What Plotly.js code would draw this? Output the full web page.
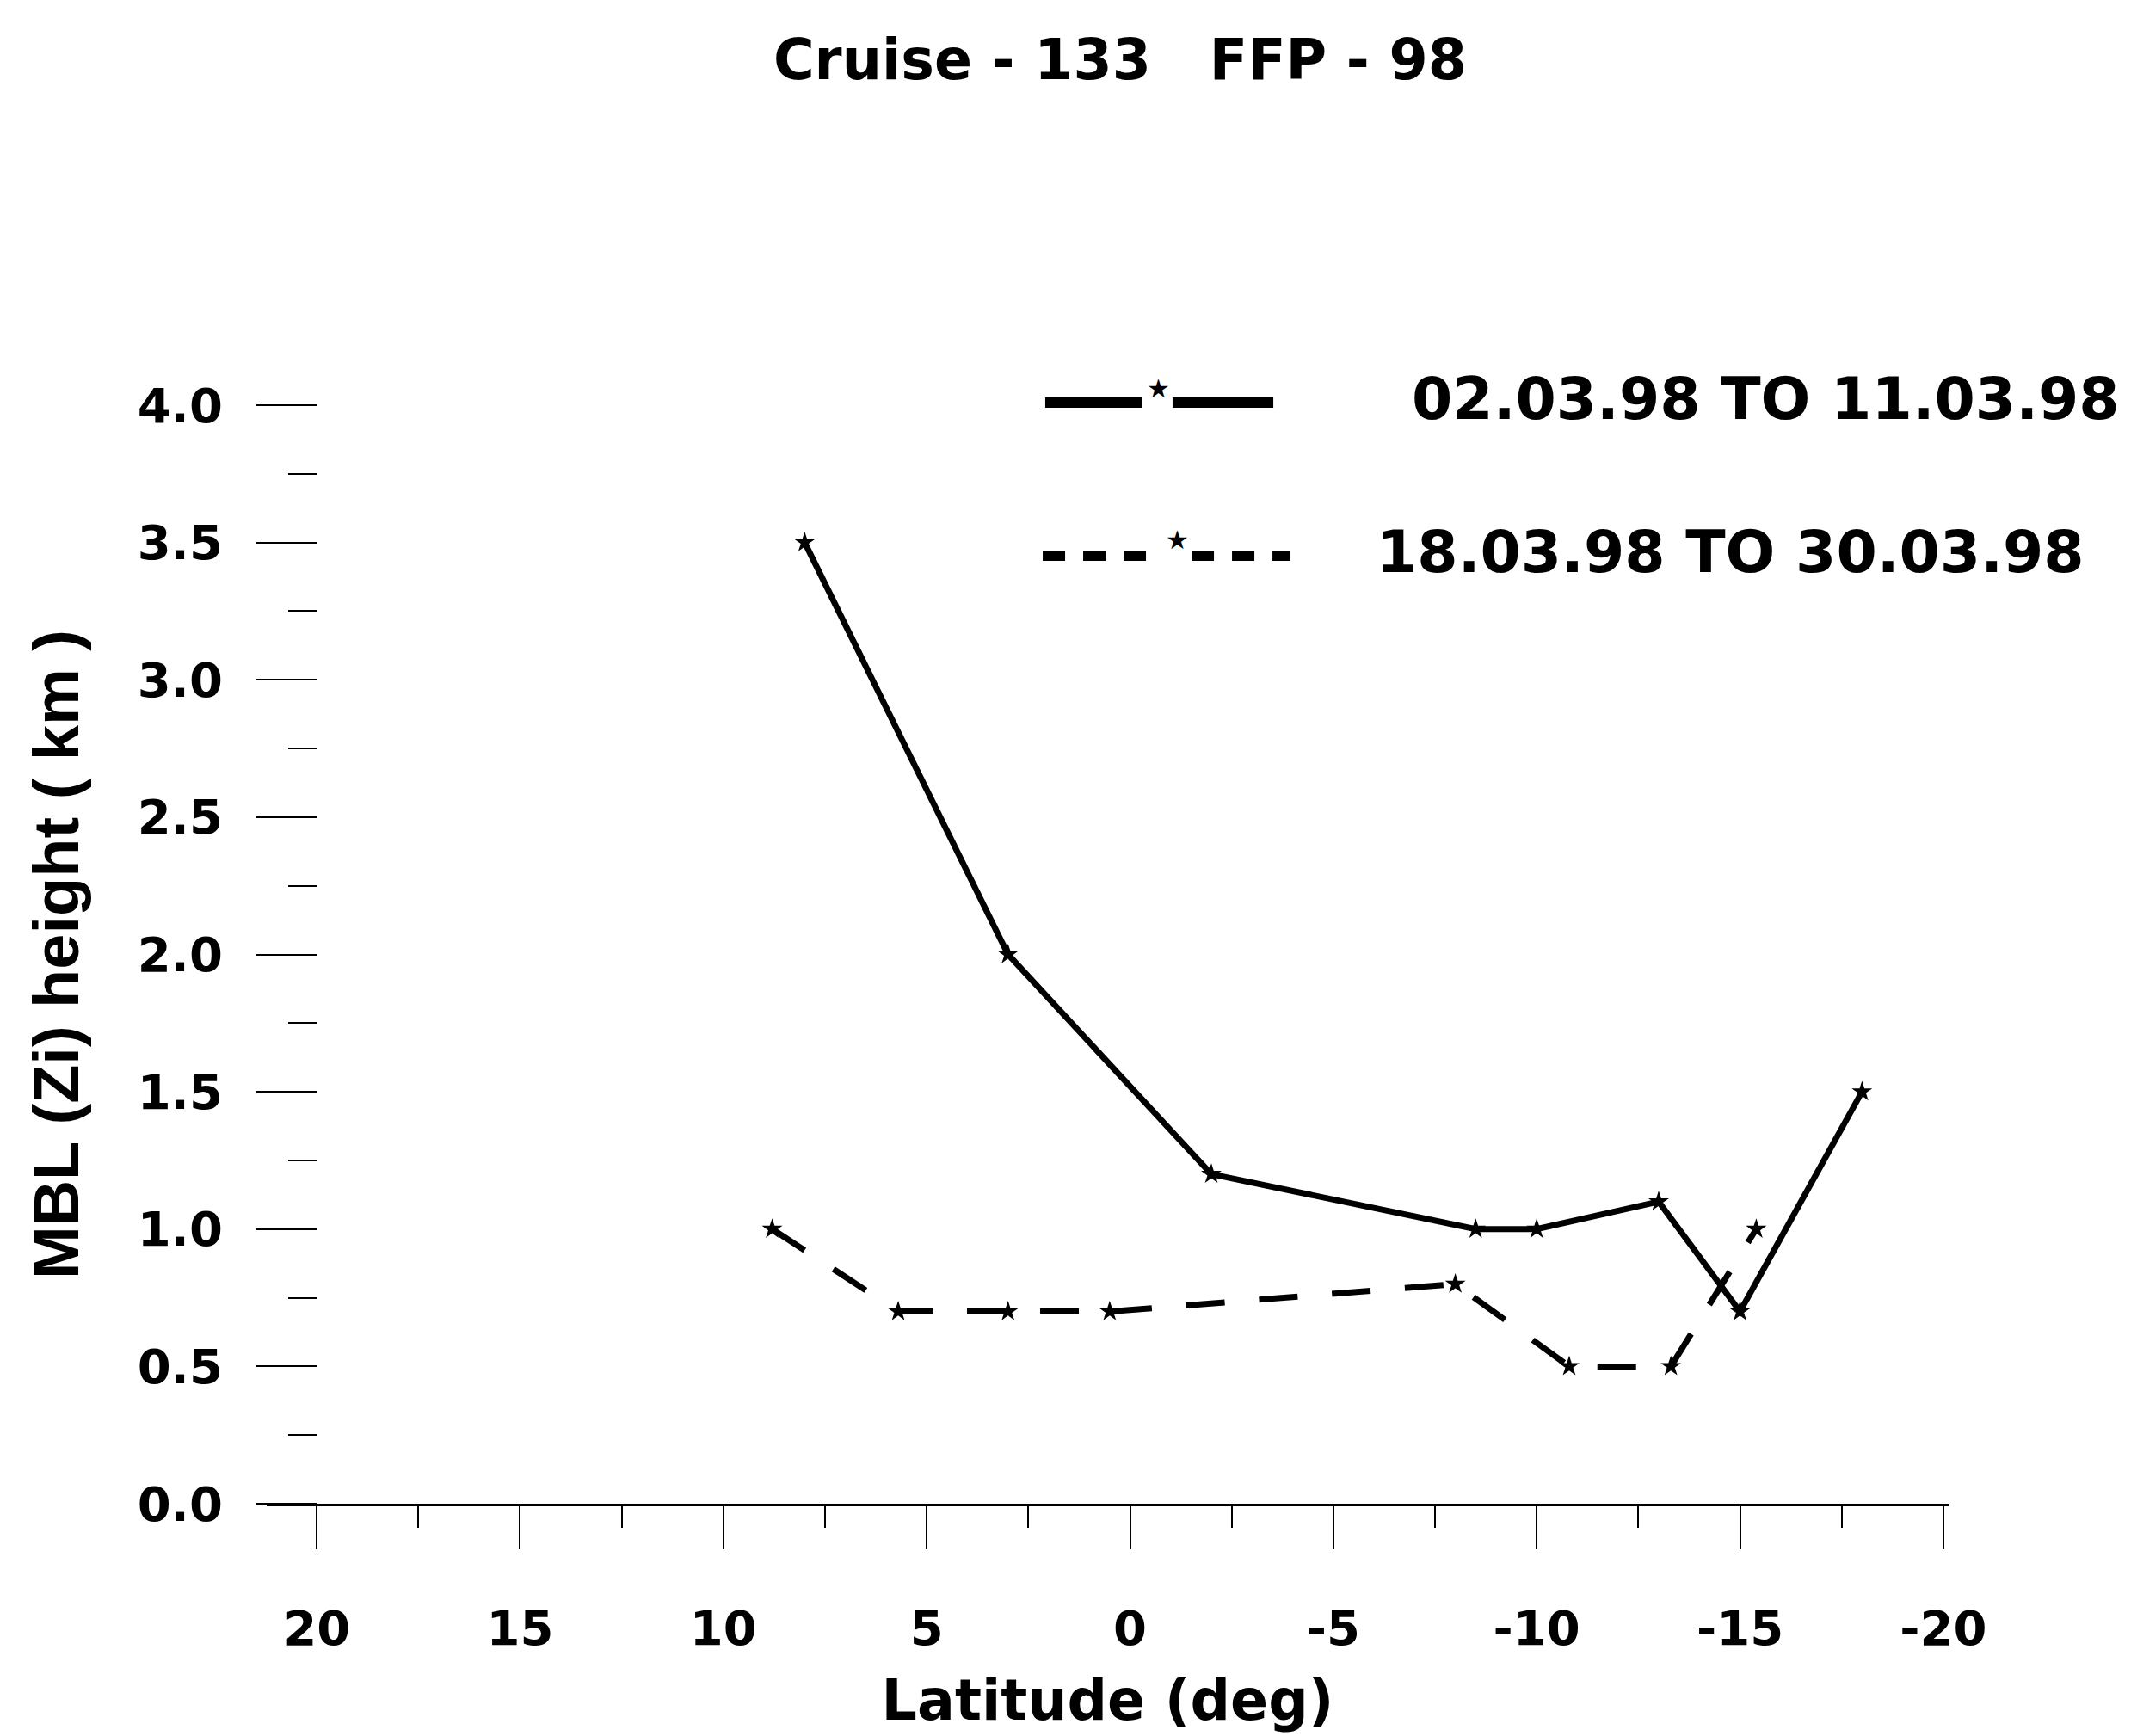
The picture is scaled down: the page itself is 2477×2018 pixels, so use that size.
<!DOCTYPE html>
<html>
<head>
<meta charset="utf-8">
<script src="https://cdn.plot.ly/plotly-3.0.1.min.js"></script>
<style>
html, body { margin: 0; padding: 0; background: #ffffff; }
#chart { width: 2477px; height: 2018px; }
</style>
</head>
<body>
<div id="chart"></div>
<script>
// ---- data ----
const chartTitle = 'Cruise - 133\u00A0\u00A0\u00A0FFP - 98';
const xTitle = 'Latitude (deg)';
const yTitle = 'MBL (Zi) height ( km )';

const solidLabel = '02.03.98 TO 11.03.98';
const solidLat = [8, 3, -2, -8.5, -10, -13, -15, -18];
const solidHeight = [3.5, 2.0, 1.2, 1.0, 1.0, 1.1, 0.7, 1.5];

const dashedLabel = '18.03.98 TO 30.03.98';
const dashedLat = [8.8, 5.7, 3, 0.5, -8, -10.8, -13.3, -15.4];
const dashedHeight = [1.0, 0.7, 0.7, 0.7, 0.8, 0.5, 0.5, 1.0];

const latTickVals = [20, 15, 10, 5, 0, -5, -10, -15, -20];
const latTickText = ['20', '15', '10', '5', '0', '-5', '-10', '-15', '-20'];
const heightTickVals = [0, 0.5, 1, 1.5, 2, 2.5, 3, 3.5, 4];
const heightTickText = ['0.0', '0.5', '1.0', '1.5', '2.0', '2.5', '3.0', '3.5', '4.0'];

// ---- styling ----
const BOLD = 'DejaVu Sans, Liberation Sans, Arial, sans-serif';
const ARIALB = 'Liberation Sans, Arial, sans-serif';

const traces = [
  {
    x: solidLat, y: solidHeight, name: solidLabel,
    type: 'scatter', mode: 'lines+markers', showlegend: false,
    line: { color: '#000000', width: 7 },
    marker: { symbol: 'star', size: 18, color: '#000000' }
  },
  {
    x: dashedLat, y: dashedHeight, name: dashedLabel,
    type: 'scatter', mode: 'lines+markers', showlegend: false,
    line: { color: '#000000', width: 7, dash: '45px,40px' },
    marker: { symbol: 'star', size: 18, color: '#000000' }
  }
];

// legend drawn as decoration in paper coordinates (long sample lines like the original)
const legendShapes = [
  { type: 'line', xref: 'paper', yref: 'paper', x0: 0.4629, x1: 0.5207, y0: 1.0023, y1: 1.0023,
    line: { color: '#000000', width: 12 } },
  { type: 'line', xref: 'paper', yref: 'paper', x0: 0.5386, x1: 0.5985, y0: 1.0023, y1: 1.0023,
    line: { color: '#000000', width: 12 } },
  { type: 'line', xref: 'paper', yref: 'paper', x0: 0.4614, x1: 0.5228, y0: 0.8630, y1: 0.8630,
    line: { color: '#000000', width: 12, dash: '26px,21px' } },
  { type: 'line', xref: 'paper', yref: 'paper', x0: 0.5499, x1: 0.6087, y0: 0.8630, y1: 0.8630,
    line: { color: '#000000', width: 12, dash: '26px,21px' } }
];

const legendAnnotations = [
  { xref: 'paper', yref: 'paper', x: 0.5304, y: 1.0149, text: '\u2605', showarrow: false,
    xanchor: 'center', yanchor: 'middle', font: { family: BOLD, size: 30, color: '#000000' } },
  { xref: 'paper', yref: 'paper', x: 0.5412, y: 0.8778, text: '\u2605', showarrow: false,
    xanchor: 'center', yanchor: 'middle', font: { family: BOLD, size: 30, color: '#000000' } },
  { xref: 'paper', yref: 'paper', x: 0.6798, y: 1.0055, text: solidLabel, showarrow: false,
    xanchor: 'left', yanchor: 'middle', font: { family: BOLD, size: 68, weight: 'bold', color: '#000000' } },
  { xref: 'paper', yref: 'paper', x: 0.6588, y: 0.8661, text: dashedLabel, showarrow: false,
    xanchor: 'left', yanchor: 'middle', font: { family: BOLD, size: 68, weight: 'bold', color: '#000000' } }
];

const layout = {
  width: 2477, height: 2018,
  paper_bgcolor: '#ffffff', plot_bgcolor: '#ffffff',
  margin: { l: 310, r: 212, t: 471, b: 270, pad: 0 },
  showlegend: false,
  title: {
    text: chartTitle,
    x: 0.5256, xref: 'container', xanchor: 'center',
    y: 0.9658, yref: 'container', yanchor: 'middle',
    font: { family: BOLD, size: 65, weight: 'bold', color: '#000000' }
  },
  xaxis: {
    range: [21.23, -20.13],
    showgrid: false, zeroline: false,
    showline: true, linecolor: '#000000', linewidth: 3,
    ticks: 'outside', ticklen: 50, tickwidth: 2, tickcolor: '#000000',
    tickmode: 'array', tickvals: latTickVals, ticktext: latTickText,
    ticklabelstandoff: 44,
    tickfont: { family: BOLD, size: 56, weight: 'bold', color: '#000000' },
    minor: { tickmode: 'linear', tick0: 0, dtick: 2.5, ticks: 'outside', ticklen: 25, tickwidth: 2, tickcolor: '#000000', showgrid: false },
    title: { text: xTitle, standoff: 30, font: { family: BOLD, size: 65, weight: 'bold', color: '#000000' } }
  },
  yaxis: {
    range: [0, 4],
    anchor: 'free', position: 0.0297,
    showgrid: false, zeroline: false, showline: false,
    ticks: 'outside', ticklen: 70, tickwidth: 2, tickcolor: '#000000',
    tickmode: 'array', tickvals: heightTickVals, ticktext: heightTickText,
    ticklabelstandoff: 28,
    tickfont: { family: BOLD, size: 56, weight: 'bold', color: '#000000' },
    minor: { tickmode: 'linear', tick0: 0, dtick: 0.25, ticks: 'outside', ticklen: 33, tickwidth: 2, tickcolor: '#000000', showgrid: false },
    title: { text: yTitle, standoff: 42, font: { family: ARIALB, size: 74, weight: 'bold', color: '#000000' } }
  },
  shapes: legendShapes,
  annotations: legendAnnotations
};

Plotly.newPlot('chart', traces, layout, { staticPlot: true, displayModeBar: false });
</script>
</body>
</html>
